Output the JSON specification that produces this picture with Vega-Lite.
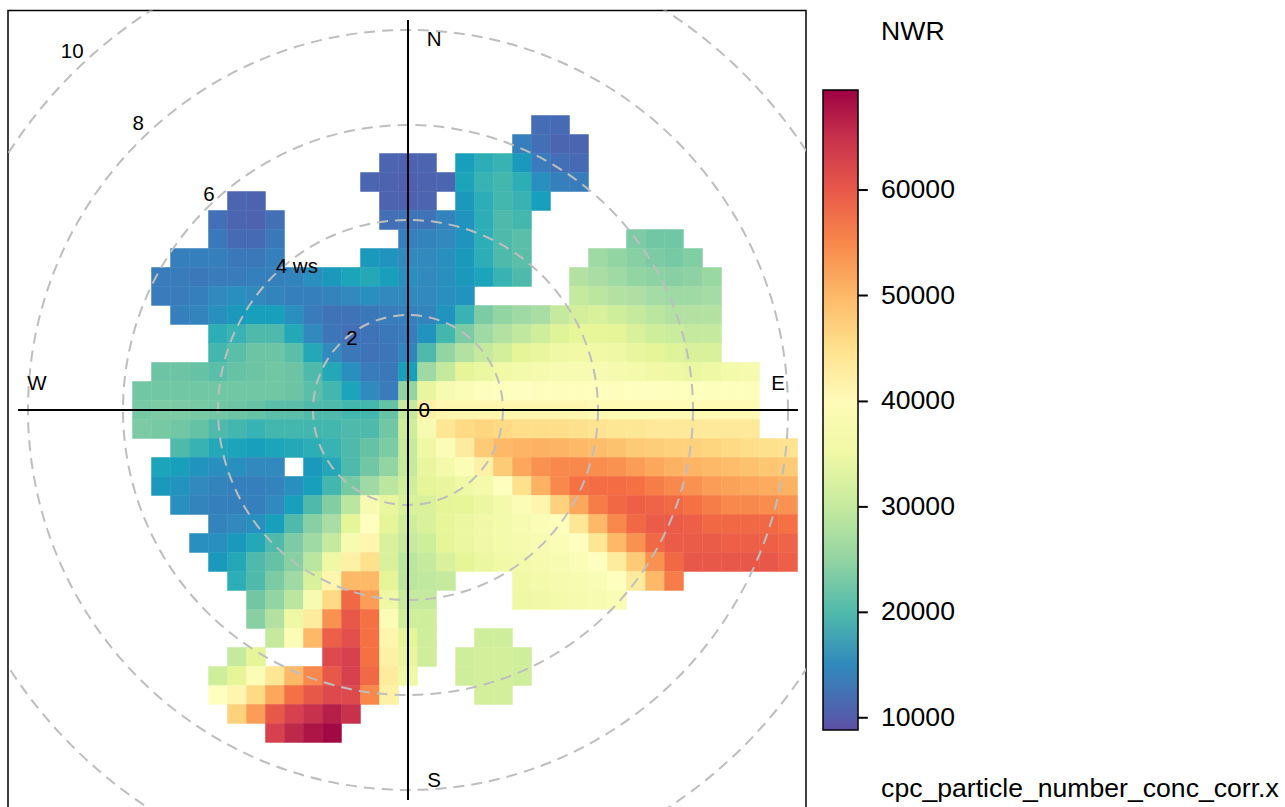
{"$schema":"https://vega.github.io/schema/vega-lite/v6.json","width":798,"height":798,"autosize":"none","padding":{"left":8,"top":10.5,"right":479,"bottom":0},"background":"white","view":{"stroke":"black","strokeWidth":1.5,"fill":null},"config":{"font":"Liberation Sans"},
"datasets":{"cells":[
{"x":2.8,"y":6,"v":11800},{"x":3.2,"y":6,"v":11500},
{"x":2.4,"y":5.6,"v":14000},{"x":2.8,"y":5.6,"v":12000},{"x":3.2,"y":5.6,"v":11000},{"x":3.6,"y":5.6,"v":11000},
{"x":-0.4,"y":5.2,"v":11000},{"x":0,"y":5.2,"v":10800},{"x":0.4,"y":5.2,"v":11000},{"x":1.2,"y":5.2,"v":17000},{"x":1.6,"y":5.2,"v":18500},{"x":2,"y":5.2,"v":19000},{"x":2.4,"y":5.2,"v":16500},{"x":2.8,"y":5.2,"v":13500},{"x":3.2,"y":5.2,"v":12000},{"x":3.6,"y":5.2,"v":11500},
{"x":-0.8,"y":4.8,"v":11000},{"x":-0.4,"y":4.8,"v":10800},{"x":0,"y":4.8,"v":10500},{"x":0.4,"y":4.8,"v":10800},{"x":0.8,"y":4.8,"v":11000},{"x":1.2,"y":4.8,"v":17500},{"x":1.6,"y":4.8,"v":19000},{"x":2,"y":4.8,"v":19500},{"x":2.4,"y":4.8,"v":18500},{"x":2.8,"y":4.8,"v":15500},{"x":3.2,"y":4.8,"v":14000},{"x":3.6,"y":4.8,"v":13500},
{"x":-3.6,"y":4.4,"v":11000},{"x":-3.2,"y":4.4,"v":10800},{"x":-0.4,"y":4.4,"v":10800},{"x":0,"y":4.4,"v":10800},{"x":0.4,"y":4.4,"v":11000},{"x":1.2,"y":4.4,"v":16500},{"x":1.6,"y":4.4,"v":18500},{"x":2,"y":4.4,"v":19500},{"x":2.4,"y":4.4,"v":19000},{"x":2.8,"y":4.4,"v":17000},
{"x":-4,"y":4,"v":12000},{"x":-3.6,"y":4,"v":11000},{"x":-3.2,"y":4,"v":10800},{"x":-2.8,"y":4,"v":12000},{"x":-0.4,"y":4,"v":12000},{"x":0,"y":4,"v":12500},{"x":0.4,"y":4,"v":12500},{"x":0.8,"y":4,"v":14500},{"x":1.2,"y":4,"v":16000},{"x":1.6,"y":4,"v":18500},{"x":2,"y":4,"v":20000},{"x":2.4,"y":4,"v":19500},
{"x":-4,"y":3.6,"v":13000},{"x":-3.6,"y":3.6,"v":11500},{"x":-3.2,"y":3.6,"v":11500},{"x":-2.8,"y":3.6,"v":13000},{"x":0,"y":3.6,"v":14000},{"x":0.4,"y":3.6,"v":14500},{"x":0.8,"y":3.6,"v":15000},{"x":1.2,"y":3.6,"v":16000},{"x":1.6,"y":3.6,"v":18500},{"x":2,"y":3.6,"v":20000},{"x":2.4,"y":3.6,"v":20500},{"x":4.8,"y":3.6,"v":23000},{"x":5.2,"y":3.6,"v":22000},{"x":5.6,"y":3.6,"v":22000},
{"x":-4.8,"y":3.2,"v":14000},{"x":-4.4,"y":3.2,"v":14000},{"x":-4,"y":3.2,"v":14000},{"x":-3.6,"y":3.2,"v":13000},{"x":-3.2,"y":3.2,"v":13000},{"x":-2.8,"y":3.2,"v":14000},{"x":-0.8,"y":3.2,"v":16500},{"x":-0.4,"y":3.2,"v":16000},{"x":0,"y":3.2,"v":15000},{"x":0.4,"y":3.2,"v":15000},{"x":0.8,"y":3.2,"v":15500},{"x":1.2,"y":3.2,"v":16500},{"x":1.6,"y":3.2,"v":18500},{"x":2,"y":3.2,"v":20000},{"x":2.4,"y":3.2,"v":20500},{"x":4,"y":3.2,"v":26000},{"x":4.4,"y":3.2,"v":25000},{"x":4.8,"y":3.2,"v":24000},{"x":5.2,"y":3.2,"v":23000},{"x":5.6,"y":3.2,"v":22500},{"x":6,"y":3.2,"v":23500},
{"x":-5.2,"y":2.8,"v":13500},{"x":-4.8,"y":2.8,"v":13500},{"x":-4.4,"y":2.8,"v":13000},{"x":-4,"y":2.8,"v":13500},{"x":-3.6,"y":2.8,"v":13500},{"x":-3.2,"y":2.8,"v":14000},{"x":-2.8,"y":2.8,"v":14000},{"x":-2.4,"y":2.8,"v":14500},{"x":-2,"y":2.8,"v":15500},{"x":-1.6,"y":2.8,"v":16500},{"x":-1.2,"y":2.8,"v":17500},{"x":-0.8,"y":2.8,"v":18000},{"x":-0.4,"y":2.8,"v":17000},{"x":0,"y":2.8,"v":15500},{"x":0.4,"y":2.8,"v":15000},{"x":0.8,"y":2.8,"v":15500},{"x":1.2,"y":2.8,"v":16500},{"x":1.6,"y":2.8,"v":17500},{"x":2,"y":2.8,"v":19000},{"x":2.4,"y":2.8,"v":20000},{"x":3.6,"y":2.8,"v":28000},{"x":4,"y":2.8,"v":27000},{"x":4.4,"y":2.8,"v":26000},{"x":4.8,"y":2.8,"v":25000},{"x":5.2,"y":2.8,"v":24500},{"x":5.6,"y":2.8,"v":24000},{"x":6,"y":2.8,"v":24500},{"x":6.4,"y":2.8,"v":25500},
{"x":-5.2,"y":2.4,"v":13500},{"x":-4.8,"y":2.4,"v":13500},{"x":-4.4,"y":2.4,"v":14000},{"x":-4,"y":2.4,"v":15000},{"x":-3.6,"y":2.4,"v":15500},{"x":-3.2,"y":2.4,"v":15000},{"x":-2.8,"y":2.4,"v":14500},{"x":-2.4,"y":2.4,"v":14000},{"x":-2,"y":2.4,"v":14000},{"x":-1.6,"y":2.4,"v":14500},{"x":-1.2,"y":2.4,"v":15000},{"x":-0.8,"y":2.4,"v":15500},{"x":-0.4,"y":2.4,"v":15000},{"x":0,"y":2.4,"v":15000},{"x":0.4,"y":2.4,"v":15000},{"x":0.8,"y":2.4,"v":15500},{"x":1.2,"y":2.4,"v":16000},{"x":3.6,"y":2.4,"v":30000},{"x":4,"y":2.4,"v":29000},{"x":4.4,"y":2.4,"v":28000},{"x":4.8,"y":2.4,"v":27500},{"x":5.2,"y":2.4,"v":26500},{"x":5.6,"y":2.4,"v":26000},{"x":6,"y":2.4,"v":26000},{"x":6.4,"y":2.4,"v":26500},
{"x":-4.8,"y":2,"v":14000},{"x":-4.4,"y":2,"v":14500},{"x":-4,"y":2,"v":15500},{"x":-3.6,"y":2,"v":16500},{"x":-3.2,"y":2,"v":17000},{"x":-2.8,"y":2,"v":17000},{"x":-2.4,"y":2,"v":15500},{"x":-2,"y":2,"v":13500},{"x":-1.6,"y":2,"v":12500},{"x":-1.2,"y":2,"v":12500},{"x":-0.8,"y":2,"v":13000},{"x":-0.4,"y":2,"v":13500},{"x":0,"y":2,"v":14000},{"x":0.4,"y":2,"v":14500},{"x":0.8,"y":2,"v":16000},{"x":1.2,"y":2,"v":19000},{"x":1.6,"y":2,"v":23000},{"x":2,"y":2,"v":25000},{"x":2.4,"y":2,"v":26000},{"x":2.8,"y":2,"v":27000},{"x":3.2,"y":2,"v":30000},{"x":3.6,"y":2,"v":31500},{"x":4,"y":2,"v":32000},{"x":4.4,"y":2,"v":31000},{"x":4.8,"y":2,"v":30000},{"x":5.2,"y":2,"v":29000},{"x":5.6,"y":2,"v":28000},{"x":6,"y":2,"v":28000},{"x":6.4,"y":2,"v":28000},
{"x":-4,"y":1.6,"v":18500},{"x":-3.6,"y":1.6,"v":19000},{"x":-3.2,"y":1.6,"v":20000},{"x":-2.8,"y":1.6,"v":20000},{"x":-2.4,"y":1.6,"v":18000},{"x":-2,"y":1.6,"v":15000},{"x":-1.6,"y":1.6,"v":12800},{"x":-1.2,"y":1.6,"v":12000},{"x":-0.8,"y":1.6,"v":12500},{"x":-0.4,"y":1.6,"v":13000},{"x":0,"y":1.6,"v":13500},{"x":0.4,"y":1.6,"v":16000},{"x":0.8,"y":1.6,"v":19500},{"x":1.2,"y":1.6,"v":23000},{"x":1.6,"y":1.6,"v":26000},{"x":2,"y":1.6,"v":28000},{"x":2.4,"y":1.6,"v":29500},{"x":2.8,"y":1.6,"v":31000},{"x":3.2,"y":1.6,"v":32500},{"x":3.6,"y":1.6,"v":33500},{"x":4,"y":1.6,"v":33500},{"x":4.4,"y":1.6,"v":33000},{"x":4.8,"y":1.6,"v":32000},{"x":5.2,"y":1.6,"v":31000},{"x":5.6,"y":1.6,"v":30500},{"x":6,"y":1.6,"v":30000},{"x":6.4,"y":1.6,"v":30000},
{"x":-4,"y":1.2,"v":19500},{"x":-3.6,"y":1.2,"v":20500},{"x":-3.2,"y":1.2,"v":21500},{"x":-2.8,"y":1.2,"v":21500},{"x":-2.4,"y":1.2,"v":20500},{"x":-2,"y":1.2,"v":18000},{"x":-1.6,"y":1.2,"v":15000},{"x":-1.2,"y":1.2,"v":13000},{"x":-0.8,"y":1.2,"v":12500},{"x":-0.4,"y":1.2,"v":12800},{"x":0,"y":1.2,"v":14500},{"x":0.4,"y":1.2,"v":20000},{"x":0.8,"y":1.2,"v":25000},{"x":1.2,"y":1.2,"v":28000},{"x":1.6,"y":1.2,"v":30000},{"x":2,"y":1.2,"v":31500},{"x":2.4,"y":1.2,"v":33000},{"x":2.8,"y":1.2,"v":34000},{"x":3.2,"y":1.2,"v":35000},{"x":3.6,"y":1.2,"v":35500},{"x":4,"y":1.2,"v":35500},{"x":4.4,"y":1.2,"v":35000},{"x":4.8,"y":1.2,"v":34000},{"x":5.2,"y":1.2,"v":33000},{"x":5.6,"y":1.2,"v":32500},{"x":6,"y":1.2,"v":32000},{"x":6.4,"y":1.2,"v":32000},
{"x":-5.2,"y":0.8,"v":21500},{"x":-4.8,"y":0.8,"v":21500},{"x":-4.4,"y":0.8,"v":21000},{"x":-4,"y":0.8,"v":20500},{"x":-3.6,"y":0.8,"v":21000},{"x":-3.2,"y":0.8,"v":21500},{"x":-2.8,"y":0.8,"v":22000},{"x":-2.4,"y":0.8,"v":21500},{"x":-2,"y":0.8,"v":20000},{"x":-1.6,"y":0.8,"v":18000},{"x":-1.2,"y":0.8,"v":15500},{"x":-0.8,"y":0.8,"v":13500},{"x":-0.4,"y":0.8,"v":13000},{"x":0,"y":0.8,"v":17000},{"x":0.4,"y":0.8,"v":26000},{"x":0.8,"y":0.8,"v":30000},{"x":1.2,"y":0.8,"v":33000},{"x":1.6,"y":0.8,"v":34500},{"x":2,"y":0.8,"v":35500},{"x":2.4,"y":0.8,"v":36000},{"x":2.8,"y":0.8,"v":36500},{"x":3.2,"y":0.8,"v":37000},{"x":3.6,"y":0.8,"v":37000},{"x":4,"y":0.8,"v":37000},{"x":4.4,"y":0.8,"v":36500},{"x":4.8,"y":0.8,"v":36000},{"x":5.2,"y":0.8,"v":35500},{"x":5.6,"y":0.8,"v":35000},{"x":6,"y":0.8,"v":34500},{"x":6.4,"y":0.8,"v":35000},{"x":6.8,"y":0.8,"v":36000},{"x":7.2,"y":0.8,"v":36500},
{"x":-5.6,"y":0.4,"v":22000},{"x":-5.2,"y":0.4,"v":22000},{"x":-4.8,"y":0.4,"v":22000},{"x":-4.4,"y":0.4,"v":22000},{"x":-4,"y":0.4,"v":22000},{"x":-3.6,"y":0.4,"v":22000},{"x":-3.2,"y":0.4,"v":22000},{"x":-2.8,"y":0.4,"v":22000},{"x":-2.4,"y":0.4,"v":21500},{"x":-2,"y":0.4,"v":20500},{"x":-1.6,"y":0.4,"v":19500},{"x":-1.2,"y":0.4,"v":17500},{"x":-0.8,"y":0.4,"v":15000},{"x":-0.4,"y":0.4,"v":13500},{"x":0,"y":0.4,"v":25000},{"x":0.4,"y":0.4,"v":34000},{"x":0.8,"y":0.4,"v":37000},{"x":1.2,"y":0.4,"v":38000},{"x":1.6,"y":0.4,"v":38500},{"x":2,"y":0.4,"v":39000},{"x":2.4,"y":0.4,"v":39000},{"x":2.8,"y":0.4,"v":39500},{"x":3.2,"y":0.4,"v":39500},{"x":3.6,"y":0.4,"v":39500},{"x":4,"y":0.4,"v":39500},{"x":4.4,"y":0.4,"v":39500},{"x":4.8,"y":0.4,"v":39000},{"x":5.2,"y":0.4,"v":39000},{"x":5.6,"y":0.4,"v":38500},{"x":6,"y":0.4,"v":38500},{"x":6.4,"y":0.4,"v":38500},{"x":6.8,"y":0.4,"v":38500},{"x":7.2,"y":0.4,"v":38500},
{"x":-5.6,"y":0,"v":22500},{"x":-5.2,"y":0,"v":23000},{"x":-4.8,"y":0,"v":23000},{"x":-4.4,"y":0,"v":22500},{"x":-4,"y":0,"v":22000},{"x":-3.6,"y":0,"v":21500},{"x":-3.2,"y":0,"v":21000},{"x":-2.8,"y":0,"v":20500},{"x":-2.4,"y":0,"v":20500},{"x":-2,"y":0,"v":20000},{"x":-1.6,"y":0,"v":20000},{"x":-1.2,"y":0,"v":19500},{"x":-0.8,"y":0,"v":19500},{"x":-0.4,"y":0,"v":21000},{"x":0,"y":0,"v":30000},{"x":0.4,"y":0,"v":42000},{"x":0.8,"y":0,"v":41000},{"x":1.2,"y":0,"v":41000},{"x":1.6,"y":0,"v":41000},{"x":2,"y":0,"v":41000},{"x":2.4,"y":0,"v":41000},{"x":2.8,"y":0,"v":41000},{"x":3.2,"y":0,"v":41000},{"x":3.6,"y":0,"v":41000},{"x":4,"y":0,"v":40500},{"x":4.4,"y":0,"v":40500},{"x":4.8,"y":0,"v":40500},{"x":5.2,"y":0,"v":40500},{"x":5.6,"y":0,"v":40500},{"x":6,"y":0,"v":40500},{"x":6.4,"y":0,"v":40500},{"x":6.8,"y":0,"v":40500},{"x":7.2,"y":0,"v":40500},
{"x":-5.6,"y":-0.4,"v":23000},{"x":-5.2,"y":-0.4,"v":22500},{"x":-4.8,"y":-0.4,"v":22000},{"x":-4.4,"y":-0.4,"v":21000},{"x":-4,"y":-0.4,"v":20000},{"x":-3.6,"y":-0.4,"v":19500},{"x":-3.2,"y":-0.4,"v":19000},{"x":-2.8,"y":-0.4,"v":19500},{"x":-2.4,"y":-0.4,"v":19500},{"x":-2,"y":-0.4,"v":19500},{"x":-1.6,"y":-0.4,"v":19500},{"x":-1.2,"y":-0.4,"v":20000},{"x":-0.8,"y":-0.4,"v":20000},{"x":-0.4,"y":-0.4,"v":22000},{"x":0,"y":-0.4,"v":31000},{"x":0.4,"y":-0.4,"v":37000},{"x":0.8,"y":-0.4,"v":44000},{"x":1.2,"y":-0.4,"v":46000},{"x":1.6,"y":-0.4,"v":46500},{"x":2,"y":-0.4,"v":46000},{"x":2.4,"y":-0.4,"v":45500},{"x":2.8,"y":-0.4,"v":45500},{"x":3.2,"y":-0.4,"v":45500},{"x":3.6,"y":-0.4,"v":45000},{"x":4,"y":-0.4,"v":44500},{"x":4.4,"y":-0.4,"v":44000},{"x":4.8,"y":-0.4,"v":44000},{"x":5.2,"y":-0.4,"v":43500},{"x":5.6,"y":-0.4,"v":43500},{"x":6,"y":-0.4,"v":43500},{"x":6.4,"y":-0.4,"v":43500},{"x":6.8,"y":-0.4,"v":43500},{"x":7.2,"y":-0.4,"v":43500},
{"x":-4.8,"y":-0.8,"v":20000},{"x":-4.4,"y":-0.8,"v":19000},{"x":-4,"y":-0.8,"v":18000},{"x":-3.6,"y":-0.8,"v":17500},{"x":-3.2,"y":-0.8,"v":17000},{"x":-2.8,"y":-0.8,"v":17500},{"x":-2.4,"y":-0.8,"v":18000},{"x":-2,"y":-0.8,"v":18500},{"x":-1.6,"y":-0.8,"v":19000},{"x":-1.2,"y":-0.8,"v":20000},{"x":-0.8,"y":-0.8,"v":21000},{"x":-0.4,"y":-0.8,"v":23000},{"x":0,"y":-0.8,"v":30000},{"x":0.4,"y":-0.8,"v":35000},{"x":0.8,"y":-0.8,"v":38000},{"x":1.2,"y":-0.8,"v":43000},{"x":1.6,"y":-0.8,"v":48000},{"x":2,"y":-0.8,"v":50000},{"x":2.4,"y":-0.8,"v":50500},{"x":2.8,"y":-0.8,"v":51000},{"x":3.2,"y":-0.8,"v":50500},{"x":3.6,"y":-0.8,"v":50000},{"x":4,"y":-0.8,"v":49500},{"x":4.4,"y":-0.8,"v":49000},{"x":4.8,"y":-0.8,"v":48000},{"x":5.2,"y":-0.8,"v":47500},{"x":5.6,"y":-0.8,"v":47000},{"x":6,"y":-0.8,"v":47000},{"x":6.4,"y":-0.8,"v":46500},{"x":6.8,"y":-0.8,"v":46000},{"x":7.2,"y":-0.8,"v":45500},{"x":7.6,"y":-0.8,"v":45000},{"x":8,"y":-0.8,"v":44500},
{"x":-5.2,"y":-1.2,"v":17500},{"x":-4.8,"y":-1.2,"v":17000},{"x":-4.4,"y":-1.2,"v":16000},{"x":-4,"y":-1.2,"v":15500},{"x":-3.6,"y":-1.2,"v":15500},{"x":-3.2,"y":-1.2,"v":15000},{"x":-2.8,"y":-1.2,"v":15000},{"x":-2,"y":-1.2,"v":16500},{"x":-1.6,"y":-1.2,"v":18000},{"x":-1.2,"y":-1.2,"v":20000},{"x":-0.8,"y":-1.2,"v":22000},{"x":-0.4,"y":-1.2,"v":25000},{"x":0,"y":-1.2,"v":30000},{"x":0.4,"y":-1.2,"v":34000},{"x":0.8,"y":-1.2,"v":36000},{"x":1.2,"y":-1.2,"v":38000},{"x":1.6,"y":-1.2,"v":42000},{"x":2,"y":-1.2,"v":48000},{"x":2.4,"y":-1.2,"v":52000},{"x":2.8,"y":-1.2,"v":54000},{"x":3.2,"y":-1.2,"v":55000},{"x":3.6,"y":-1.2,"v":55000},{"x":4,"y":-1.2,"v":54500},{"x":4.4,"y":-1.2,"v":54000},{"x":4.8,"y":-1.2,"v":53000},{"x":5.2,"y":-1.2,"v":52000},{"x":5.6,"y":-1.2,"v":51000},{"x":6,"y":-1.2,"v":50500},{"x":6.4,"y":-1.2,"v":50000},{"x":6.8,"y":-1.2,"v":49500},{"x":7.2,"y":-1.2,"v":49000},{"x":7.6,"y":-1.2,"v":48500},{"x":8,"y":-1.2,"v":48000},
{"x":-5.2,"y":-1.6,"v":16500},{"x":-4.8,"y":-1.6,"v":16000},{"x":-4.4,"y":-1.6,"v":15000},{"x":-4,"y":-1.6,"v":14500},{"x":-3.6,"y":-1.6,"v":14000},{"x":-3.2,"y":-1.6,"v":14000},{"x":-2.8,"y":-1.6,"v":14500},{"x":-2.4,"y":-1.6,"v":15500},{"x":-2,"y":-1.6,"v":17000},{"x":-1.6,"y":-1.6,"v":19500},{"x":-1.2,"y":-1.6,"v":22500},{"x":-0.8,"y":-1.6,"v":26000},{"x":-0.4,"y":-1.6,"v":29000},{"x":0,"y":-1.6,"v":31000},{"x":0.4,"y":-1.6,"v":33000},{"x":0.8,"y":-1.6,"v":34000},{"x":1.2,"y":-1.6,"v":35000},{"x":1.6,"y":-1.6,"v":36000},{"x":2,"y":-1.6,"v":39000},{"x":2.4,"y":-1.6,"v":45000},{"x":2.8,"y":-1.6,"v":51000},{"x":3.2,"y":-1.6,"v":55000},{"x":3.6,"y":-1.6,"v":57000},{"x":4,"y":-1.6,"v":57500},{"x":4.4,"y":-1.6,"v":57500},{"x":4.8,"y":-1.6,"v":57000},{"x":5.2,"y":-1.6,"v":56000},{"x":5.6,"y":-1.6,"v":55000},{"x":6,"y":-1.6,"v":54000},{"x":6.4,"y":-1.6,"v":53000},{"x":6.8,"y":-1.6,"v":52500},{"x":7.2,"y":-1.6,"v":52000},{"x":7.6,"y":-1.6,"v":51500},{"x":8,"y":-1.6,"v":51000},
{"x":-4.8,"y":-2,"v":15500},{"x":-4.4,"y":-2,"v":14500},{"x":-4,"y":-2,"v":14000},{"x":-3.6,"y":-2,"v":14000},{"x":-3.2,"y":-2,"v":14000},{"x":-2.8,"y":-2,"v":15000},{"x":-2.4,"y":-2,"v":17000},{"x":-2,"y":-2,"v":20000},{"x":-1.6,"y":-2,"v":23500},{"x":-1.2,"y":-2,"v":29000},{"x":-0.8,"y":-2,"v":37000},{"x":-0.4,"y":-2,"v":34000},{"x":0,"y":-2,"v":32000},{"x":0.4,"y":-2,"v":32000},{"x":0.8,"y":-2,"v":33000},{"x":1.2,"y":-2,"v":33500},{"x":1.6,"y":-2,"v":34500},{"x":2,"y":-2,"v":36000},{"x":2.4,"y":-2,"v":38000},{"x":2.8,"y":-2,"v":41000},{"x":3.2,"y":-2,"v":47000},{"x":3.6,"y":-2,"v":52000},{"x":4,"y":-2,"v":56000},{"x":4.4,"y":-2,"v":58000},{"x":4.8,"y":-2,"v":59000},{"x":5.2,"y":-2,"v":58500},{"x":5.6,"y":-2,"v":58000},{"x":6,"y":-2,"v":57000},{"x":6.4,"y":-2,"v":56000},{"x":6.8,"y":-2,"v":55000},{"x":7.2,"y":-2,"v":55000},{"x":7.6,"y":-2,"v":54500},{"x":8,"y":-2,"v":54000},
{"x":-4,"y":-2.4,"v":14500},{"x":-3.6,"y":-2.4,"v":15000},{"x":-3.2,"y":-2.4,"v":15500},{"x":-2.8,"y":-2.4,"v":17000},{"x":-2.4,"y":-2.4,"v":20000},{"x":-2,"y":-2.4,"v":24000},{"x":-1.6,"y":-2.4,"v":27000},{"x":-1.2,"y":-2.4,"v":33000},{"x":-0.8,"y":-2.4,"v":39000},{"x":-0.4,"y":-2.4,"v":33000},{"x":0,"y":-2.4,"v":31000},{"x":0.4,"y":-2.4,"v":32000},{"x":0.8,"y":-2.4,"v":33500},{"x":1.2,"y":-2.4,"v":34500},{"x":1.6,"y":-2.4,"v":35500},{"x":2,"y":-2.4,"v":36000},{"x":2.4,"y":-2.4,"v":37000},{"x":2.8,"y":-2.4,"v":38000},{"x":3.2,"y":-2.4,"v":39500},{"x":3.6,"y":-2.4,"v":44000},{"x":4,"y":-2.4,"v":50000},{"x":4.4,"y":-2.4,"v":55000},{"x":4.8,"y":-2.4,"v":58000},{"x":5.2,"y":-2.4,"v":59500},{"x":5.6,"y":-2.4,"v":59500},{"x":6,"y":-2.4,"v":59000},{"x":6.4,"y":-2.4,"v":58000},{"x":6.8,"y":-2.4,"v":58000},{"x":7.2,"y":-2.4,"v":58000},{"x":7.6,"y":-2.4,"v":58000},{"x":8,"y":-2.4,"v":57000},
{"x":-4.4,"y":-2.8,"v":15500},{"x":-4,"y":-2.8,"v":15500},{"x":-3.6,"y":-2.8,"v":16500},{"x":-3.2,"y":-2.8,"v":18000},{"x":-2.8,"y":-2.8,"v":20000},{"x":-2.4,"y":-2.8,"v":23000},{"x":-2,"y":-2.8,"v":26000},{"x":-1.6,"y":-2.8,"v":30000},{"x":-1.2,"y":-2.8,"v":37000},{"x":-0.8,"y":-2.8,"v":41000},{"x":-0.4,"y":-2.8,"v":32000},{"x":0,"y":-2.8,"v":30000},{"x":0.4,"y":-2.8,"v":31000},{"x":0.8,"y":-2.8,"v":33000},{"x":1.2,"y":-2.8,"v":34500},{"x":1.6,"y":-2.8,"v":35500},{"x":2,"y":-2.8,"v":36000},{"x":2.4,"y":-2.8,"v":36500},{"x":2.8,"y":-2.8,"v":37000},{"x":3.2,"y":-2.8,"v":38000},{"x":3.6,"y":-2.8,"v":39000},{"x":4,"y":-2.8,"v":44000},{"x":4.4,"y":-2.8,"v":50000},{"x":4.8,"y":-2.8,"v":54000},{"x":5.2,"y":-2.8,"v":58000},{"x":5.6,"y":-2.8,"v":59500},{"x":6,"y":-2.8,"v":59500},{"x":6.4,"y":-2.8,"v":59500},{"x":6.8,"y":-2.8,"v":59000},{"x":7.2,"y":-2.8,"v":59000},{"x":7.6,"y":-2.8,"v":59000},{"x":8,"y":-2.8,"v":58500},
{"x":-4,"y":-3.2,"v":16500},{"x":-3.6,"y":-3.2,"v":18000},{"x":-3.2,"y":-3.2,"v":20000},{"x":-2.8,"y":-3.2,"v":21000},{"x":-2.4,"y":-3.2,"v":24000},{"x":-2,"y":-3.2,"v":29000},{"x":-1.6,"y":-3.2,"v":35000},{"x":-1.2,"y":-3.2,"v":42000},{"x":-0.8,"y":-3.2,"v":45000},{"x":-0.4,"y":-3.2,"v":32000},{"x":0,"y":-3.2,"v":29000},{"x":0.4,"y":-3.2,"v":30000},{"x":0.8,"y":-3.2,"v":32000},{"x":1.2,"y":-3.2,"v":33000},{"x":1.6,"y":-3.2,"v":34500},{"x":2,"y":-3.2,"v":35500},{"x":2.4,"y":-3.2,"v":36000},{"x":2.8,"y":-3.2,"v":36500},{"x":3.2,"y":-3.2,"v":37000},{"x":3.6,"y":-3.2,"v":38000},{"x":4,"y":-3.2,"v":39000},{"x":4.4,"y":-3.2,"v":43000},{"x":4.8,"y":-3.2,"v":48000},{"x":5.2,"y":-3.2,"v":54000},{"x":5.6,"y":-3.2,"v":58000},{"x":6,"y":-3.2,"v":60000},{"x":6.4,"y":-3.2,"v":60000},{"x":6.8,"y":-3.2,"v":60000},{"x":7.2,"y":-3.2,"v":60000},{"x":7.6,"y":-3.2,"v":60000},{"x":8,"y":-3.2,"v":59000},
{"x":-3.6,"y":-3.6,"v":18500},{"x":-3.2,"y":-3.6,"v":20000},{"x":-2.8,"y":-3.6,"v":23000},{"x":-2.4,"y":-3.6,"v":26000},{"x":-2,"y":-3.6,"v":32000},{"x":-1.6,"y":-3.6,"v":41000},{"x":-1.2,"y":-3.6,"v":50000},{"x":-0.8,"y":-3.6,"v":50000},{"x":-0.4,"y":-3.6,"v":33000},{"x":0,"y":-3.6,"v":29000},{"x":0.4,"y":-3.6,"v":29500},{"x":0.8,"y":-3.6,"v":30000},{"x":2.4,"y":-3.6,"v":35500},{"x":2.8,"y":-3.6,"v":36000},{"x":3.2,"y":-3.6,"v":36500},{"x":3.6,"y":-3.6,"v":37000},{"x":4,"y":-3.6,"v":37500},{"x":4.4,"y":-3.6,"v":39000},{"x":4.8,"y":-3.6,"v":43000},{"x":5.2,"y":-3.6,"v":50000},{"x":5.6,"y":-3.6,"v":56000},
{"x":-3.2,"y":-4,"v":22000},{"x":-2.8,"y":-4,"v":25000},{"x":-2.4,"y":-4,"v":29000},{"x":-2,"y":-4,"v":37000},{"x":-1.6,"y":-4,"v":46000},{"x":-1.2,"y":-4,"v":58000},{"x":-0.8,"y":-4,"v":53000},{"x":-0.4,"y":-4,"v":35000},{"x":0,"y":-4,"v":30000},{"x":0.4,"y":-4,"v":30000},{"x":2.4,"y":-4,"v":35000},{"x":2.8,"y":-4,"v":35500},{"x":3.2,"y":-4,"v":36000},{"x":3.6,"y":-4,"v":36500},{"x":4,"y":-4,"v":37000},{"x":4.4,"y":-4,"v":37500},
{"x":-3.2,"y":-4.4,"v":24000},{"x":-2.8,"y":-4.4,"v":28000},{"x":-2.4,"y":-4.4,"v":35000},{"x":-2,"y":-4.4,"v":43000},{"x":-1.6,"y":-4.4,"v":54000},{"x":-1.2,"y":-4.4,"v":60000},{"x":-0.8,"y":-4.4,"v":57000},{"x":-0.4,"y":-4.4,"v":38000},{"x":0,"y":-4.4,"v":31000},{"x":0.4,"y":-4.4,"v":31000},
{"x":-2.8,"y":-4.8,"v":30000},{"x":-2.4,"y":-4.8,"v":38000},{"x":-2,"y":-4.8,"v":50000},{"x":-1.6,"y":-4.8,"v":59000},{"x":-1.2,"y":-4.8,"v":61000},{"x":-0.8,"y":-4.8,"v":57000},{"x":-0.4,"y":-4.8,"v":41000},{"x":0,"y":-4.8,"v":33000},{"x":0.4,"y":-4.8,"v":31000},{"x":1.6,"y":-4.8,"v":31000},{"x":2,"y":-4.8,"v":31000},
{"x":-3.6,"y":-5.2,"v":30000},{"x":-3.2,"y":-5.2,"v":33000},{"x":-1.6,"y":-5.2,"v":62000},{"x":-1.2,"y":-5.2,"v":63000},{"x":-0.8,"y":-5.2,"v":57000},{"x":-0.4,"y":-5.2,"v":42000},{"x":0,"y":-5.2,"v":34000},{"x":0.4,"y":-5.2,"v":31000},{"x":1.2,"y":-5.2,"v":31000},{"x":1.6,"y":-5.2,"v":31500},{"x":2,"y":-5.2,"v":31500},{"x":2.4,"y":-5.2,"v":31000},
{"x":-4,"y":-5.6,"v":31000},{"x":-3.6,"y":-5.6,"v":33000},{"x":-3.2,"y":-5.6,"v":38000},{"x":-2.8,"y":-5.6,"v":44000},{"x":-2.4,"y":-5.6,"v":50000},{"x":-2,"y":-5.6,"v":55000},{"x":-1.6,"y":-5.6,"v":60000},{"x":-1.2,"y":-5.6,"v":63000},{"x":-0.8,"y":-5.6,"v":58000},{"x":-0.4,"y":-5.6,"v":43000},{"x":0,"y":-5.6,"v":35000},{"x":1.2,"y":-5.6,"v":31000},{"x":1.6,"y":-5.6,"v":31500},{"x":2,"y":-5.6,"v":31500},{"x":2.4,"y":-5.6,"v":31000},
{"x":-4,"y":-6,"v":39000},{"x":-3.6,"y":-6,"v":41000},{"x":-3.2,"y":-6,"v":46000},{"x":-2.8,"y":-6,"v":52000},{"x":-2.4,"y":-6,"v":57000},{"x":-2,"y":-6,"v":60000},{"x":-1.6,"y":-6,"v":62000},{"x":-1.2,"y":-6,"v":62000},{"x":-0.8,"y":-6,"v":55000},{"x":-0.4,"y":-6,"v":42000},{"x":1.6,"y":-6,"v":31500},{"x":2,"y":-6,"v":31500},
{"x":-3.6,"y":-6.4,"v":47000},{"x":-3.2,"y":-6.4,"v":53000},{"x":-2.8,"y":-6.4,"v":60000},{"x":-2.4,"y":-6.4,"v":63000},{"x":-2,"y":-6.4,"v":65000},{"x":-1.6,"y":-6.4,"v":67000},{"x":-1.2,"y":-6.4,"v":65000},
{"x":-2.8,"y":-6.8,"v":63000},{"x":-2.4,"y":-6.8,"v":66000},{"x":-2,"y":-6.8,"v":68000},{"x":-1.6,"y":-6.8,"v":69000}
],
"rings":[{"x":0,"y":0,"r":2},{"x":0,"y":0,"r":4},{"x":0,"y":0,"r":6},{"x":0,"y":0,"r":8},{"x":0,"y":0,"r":10}],
"cross":[{"x":-8.21,"x2":8.21,"y":0,"y2":0},{"x":0,"x2":0,"y":8.21,"y2":-8.21},{"x":9.47,"x2":9.68,"y":-6.48,"y2":-6.48},{"x":9.47,"x2":9.68,"y":-4.26,"y2":-4.26},{"x":9.47,"x2":9.68,"y":-2.04,"y2":-2.04},{"x":9.47,"x2":9.68,"y":0.18,"y2":0.18},{"x":9.47,"x2":9.68,"y":2.41,"y2":2.41},{"x":9.47,"x2":9.68,"y":4.63,"y2":4.63}],
"plotlabels":[{"x":0.55,"y":7.79,"t":"N"},{"x":0.55,"y":-7.81,"t":"S"},{"x":-7.81,"y":0.55,"t":"W"},{"x":7.79,"y":0.55,"t":"E"},{"x":0.34,"y":-0.02,"t":"0"},{"x":-1.18,"y":1.49,"t":"2"},{"x":-2.34,"y":3.01,"t":"4 ws"},{"x":-4.19,"y":4.53,"t":"6"},{"x":-5.68,"y":6.02,"t":"8"},{"x":-7.07,"y":7.54,"t":"10"}],
"sidetext":[{"x":9.96,"y":7.96,"t":"NWR"},{"x":9.96,"y":-7.98,"t":"cpc_particle_number_conc_corr.x"}]},
"layer":[
{"data":{"name":"cells"},"mark":{"type":"square","size":380,"opacity":1,"filled":true,"clip":true},"encoding":{
"x":{"field":"x","type":"quantitative","scale":{"domain":[-8.421,8.379],"nice":false,"zero":false},"axis":null},
"y":{"field":"y","type":"quantitative","scale":{"domain":[-8.39,8.41],"nice":false,"zero":false},"axis":null},
"color":{"field":"v","type":"quantitative","scale":{"domain":[8864,14925,20985,27046,33106,39167,45228,51288,57349,63409,69470],"range":["#5E4FA2","#3288BD","#66C2A5","#ABDDA4","#E6F598","#FFFFBF","#FEE08B","#FDAE61","#F46D43","#D53E4F","#9E0142"]},
"legend":{"orient":"none","legendX":815,"legendY":79.5,"title":null,"type":"gradient","gradientLength":640,"gradientThickness":35,"gradientStrokeColor":"black","gradientStrokeWidth":1.5,"values":[10000,20000,30000,40000,50000,60000],"labelFontSize":26.6,"labelColor":"black","labelFont":"Liberation Sans","labelOffset":23,"labelOverlap":false,"format":"d"}}}},
{"data":{"name":"rings"},"mark":{"type":"point","filled":false,"shape":"circle","stroke":"#BEBEBE","strokeWidth":2,"strokeDash":[11,7],"clip":true,"opacity":1},"encoding":{
"x":{"field":"x","type":"quantitative"},"y":{"field":"y","type":"quantitative"},
"size":{"field":"r","type":"quantitative","scale":{"type":"pow","exponent":2,"domain":[0,10],"range":[0,902500]},"legend":null}}},
{"data":{"name":"cross"},"mark":{"type":"rule","color":"black","strokeWidth":2},"encoding":{"x":{"field":"x","type":"quantitative"},"x2":{"field":"x2"},"y":{"field":"y","type":"quantitative"},"y2":{"field":"y2"}}},
{"data":{"name":"plotlabels"},"mark":{"type":"text","fontSize":20.5,"color":"black","font":"Liberation Sans","align":"center","baseline":"middle"},"encoding":{"x":{"field":"x","type":"quantitative"},"y":{"field":"y","type":"quantitative"},"text":{"field":"t"}}},
{"data":{"name":"sidetext"},"mark":{"type":"text","fontSize":26.6,"color":"black","font":"Liberation Sans","align":"left","baseline":"middle"},"encoding":{"x":{"field":"x","type":"quantitative"},"y":{"field":"y","type":"quantitative"},"text":{"field":"t"}}}
]}
